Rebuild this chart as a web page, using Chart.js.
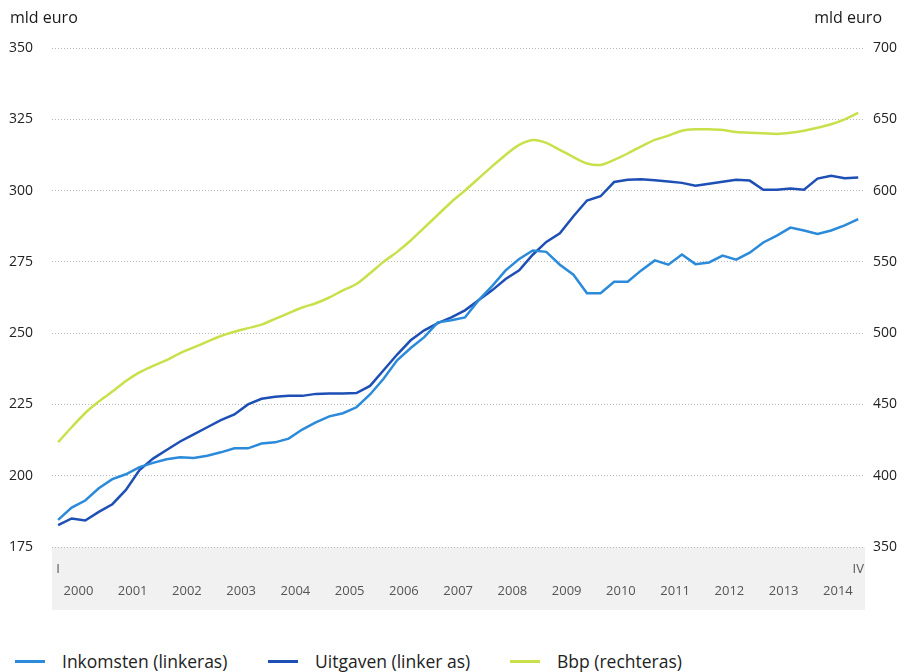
<!DOCTYPE html>
<html>
<head>
<meta charset="utf-8">
<script src="https://cdn.jsdelivr.net/npm/chart.js@4.4.1/dist/chart.umd.min.js"></script>
<style>
  body { margin: 0; background: #fff; font-family: "Open Sans", sans-serif; }
  #wrap { position: relative; width: 910px; height: 672px; }
  #chart { position: absolute; left: 0; top: 0; }
  .leg { position: absolute; top: 649px; display: flex; align-items: center; font-size: 17.5px; color: #222; }
  .leg span.sw { display: inline-block; width: 30px; height: 3px; margin-right: 17px; }
</style>
</head>
<body>
<div id="wrap">
  <canvas id="chart" width="910" height="645"></canvas>
  <div class="leg" style="left:15px"><span class="sw" style="background:#2b8ad9"></span>Inkomsten (linkeras)</div>
  <div class="leg" style="left:268px"><span class="sw" style="background:#1d4fb5"></span>Uitgaven (linker as)</div>
  <div class="leg" style="left:510px"><span class="sw" style="background:#c9e04a"></span>Bbp (rechteras)</div>
</div>
<script>
const years = ['2000', '2001', '2002', '2003', '2004', '2005', '2006', '2007',
               '2008', '2009', '2010', '2011', '2012', '2013', '2014'];
const quarterNames = ['I', 'II', 'III', 'IV'];

// mld euro, kwartaal 2000-I t/m 2014-IV
const inkomsten = [
  184.5, 188.8, 191.3, 195.6, 198.8, 200.5, 203.0, 204.5,
  205.8, 206.5, 206.2, 207.0, 208.2, 209.6, 209.6, 211.3,
  211.7, 213.0, 216.2, 218.7, 220.8, 221.9, 224.0, 228.5,
  234.0, 240.5, 244.8, 248.6, 253.8, 254.5, 255.5, 261.5,
  266.5, 272.0, 276.0, 279.0, 278.5, 274.0, 270.5, 264.0,
  264.0, 268.0, 268.0, 272.0, 275.5, 274.0, 277.6, 274.2,
  274.8, 277.2, 275.8, 278.2, 281.8, 284.2, 287.0, 286.0,
  284.8, 286.0, 287.8, 290.0
];
const uitgaven = [
  182.7, 185.0, 184.3, 187.3, 190.0, 195.0, 202.0, 206.0,
  209.0, 212.0, 214.5, 217.0, 219.5, 221.5, 225.0, 227.0,
  227.7, 228.0, 228.0, 228.7, 228.8, 228.8, 229.0, 231.5,
  237.0, 242.5, 247.5, 251.0, 253.5, 255.5, 258.0, 261.5,
  265.0, 269.0, 272.0, 277.5, 282.0, 285.0, 291.0, 296.5,
  298.0, 303.0, 303.8, 304.0, 303.6, 303.2, 302.7, 301.7,
  302.4, 303.1, 303.8, 303.5, 300.3, 300.3, 300.7, 300.3,
  304.2, 305.2, 304.3, 304.6
];
const bbp = [
  423.5, 434.0, 444.0, 452.0, 459.0, 466.5, 472.5, 477.0,
  481.0, 486.0, 490.0, 494.0, 498.0, 501.0, 503.5, 506.0,
  510.0, 514.0, 518.0, 521.0, 525.0, 530.0, 534.5, 542.0,
  550.0, 557.0, 565.0, 574.0, 583.0, 592.0, 600.0, 608.5,
  617.0, 625.0, 632.0, 635.5, 633.5, 628.5, 623.5, 619.0,
  618.0, 621.5, 626.0, 631.0, 635.5, 638.5, 642.0, 643.0,
  643.0, 642.5, 641.0, 640.6, 640.2, 639.7, 640.5, 642.0,
  644.0, 646.5, 650.0, 654.5
];
const leftTicks = [175, 200, 225, 250, 275, 300, 325, 350];
const rightTicks = [350, 400, 450, 500, 550, 600, 650, 700];

const toPoints = arr => arr.map((v, i) => ({ x: i, y: v }));
const lastIdx = years.length * quarterNames.length - 1;

const bandAndTitles = {
  id: 'bandAndTitles',
  beforeDraw(chart) {
    const c = chart.ctx, a = chart.chartArea;
    c.save();
    c.fillStyle = '#f1f1f1';
    c.fillRect(a.left, a.bottom, a.right - a.left, 63);
    c.fillStyle = '#1a1a1a';
    c.font = '16px "Open Sans"';
    c.textBaseline = 'middle';
    c.textAlign = 'left';
    c.fillText('mld euro', 10, 18);
    c.textAlign = 'right';
    c.fillText('mld euro', 882, 18);
    c.restore();
  }
};

new Chart(document.getElementById('chart').getContext('2d'), {
  type: 'line',
  data: {
    datasets: [
      { label: 'Inkomsten (linkeras)', data: toPoints(inkomsten), yAxisID: 'yL',
        borderColor: '#2b8ad9', borderWidth: 2.5, pointRadius: 0, tension: 0 },
      { label: 'Uitgaven (linker as)', data: toPoints(uitgaven), yAxisID: 'yL',
        borderColor: '#1d4fb5', borderWidth: 2.5, pointRadius: 0, tension: 0 },
      { label: 'Bbp (rechteras)', data: toPoints(bbp), yAxisID: 'yR',
        borderColor: '#c9e04a', borderWidth: 2.5, pointRadius: 0, tension: 0.3 }
    ]
  },
  options: {
    responsive: false,
    animation: false,
    layout: { padding: { top: 48, bottom: 0, left: 0, right: 0 } },
    plugins: { legend: { display: false }, tooltip: { enabled: false } },
    scales: {
      x: {
        type: 'linear',
        min: -0.45,
        max: lastIdx + 0.5,
        grid: { display: false },
        border: { display: false },
        afterFit(scale) { scale.height = 98; },
        afterBuildTicks(scale) {
          const t = [{ value: 0 }];
          years.forEach((y, k) => t.push({ value: k * 4 + 1.5 }));
          t.push({ value: lastIdx });
          scale.ticks = t;
        },
        ticks: {
          autoSkip: false,
          maxRotation: 0,
          padding: 3,
          color: '#555',
          font: { family: 'Open Sans', size: 13, lineHeight: 1.7 },
          callback(value) {
            if (value === 0) return [quarterNames[0], ''];
            if (value === lastIdx) return [quarterNames[3], ''];
            return ['', years[Math.round((value - 1.5) / 4)]];
          }
        }
      },
      yL: {
        position: 'left',
        min: 175,
        max: 350,
        afterFit(scale) { scale.width = 52; },
        afterBuildTicks(scale) { scale.ticks = leftTicks.map(v => ({ value: v })); },
        grid: { color: '#b8b8b8', lineWidth: 1, drawTicks: false },
        border: { display: false, dash: [1, 2] },
        ticks: { padding: 19, color: '#222', font: { family: 'Open Sans', size: 14 } }
      },
      yR: {
        position: 'right',
        min: 350,
        max: 700,
        afterFit(scale) { scale.width = 45; },
        afterBuildTicks(scale) { scale.ticks = rightTicks.map(v => ({ value: v })); },
        grid: { drawOnChartArea: false, drawTicks: false },
        border: { display: false },
        ticks: { padding: 8, color: '#222', font: { family: 'Open Sans', size: 14 } }
      }
    }
  },
  plugins: [bandAndTitles]
});
</script>
</body>
</html>
